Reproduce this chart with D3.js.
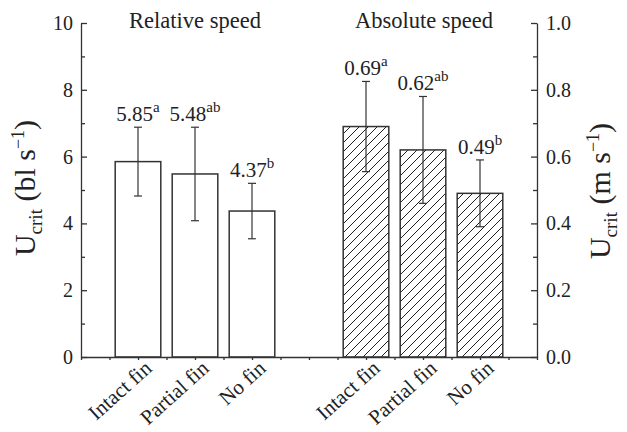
<!DOCTYPE html>
<html>
<head>
<meta charset="utf-8">
<script src="https://cdn.jsdelivr.net/npm/d3@7"></script>
<style>
  body { margin: 0; background: #fff; }
  svg text { font-family: "Liberation Serif", "Times New Roman", serif; fill: #222; }
  .axis path, .axis line { stroke: #333; stroke-width: 1.3; }
</style>
</head>
<body>
<svg width="627" height="432"></svg>
<script>
// chart values
var categories = ["Intact fin", "Partial fin", "No fin"];
var relMean = [5.85, 5.48, 4.37];
var relErr = [1.03, 1.40, 0.83];
var relSig = ["a", "ab", "b"];
var absMean = [0.69, 0.62, 0.49];
var absErr = [0.135, 0.16, 0.10];
var absSig = ["a", "ab", "b"];
var relPos = [1, 2, 3];
var absPos = [5, 6, 7];
var leftTicks = [0, 2, 4, 6, 8, 10];
var rightTicks = [0, 0.2, 0.4, 0.6, 0.8, 1.0];

var svg = d3.select("svg");

var x = d3.scaleLinear().domain([0, 8]).range([81, 537]);
var yL = d3.scaleLinear().domain([0, 10]).range([357, 23]);
var yR = d3.scaleLinear().domain([0, 1]).range([357, 23]);
var barW = (x(1) - x(0)) * 0.8;

// hatch pattern for absolute speed bars
var defs = svg.append("defs");
defs.append("pattern")
    .attr("id", "hatch")
    .attr("patternUnits", "userSpaceOnUse")
    .attr("width", 9).attr("height", 9)
  .append("path")
    .attr("d", "M-1,1 L1,-1 M0,9 L9,0 M8,10 L10,8")
    .attr("stroke", "#222")
    .attr("stroke-width", 1);

function drawGroup(pos, mean, err, sig, y, fill) {
  var g = svg.append("g");
  var data = mean.map(function(m, i) {
    return {x: pos[i], m: m, e: err[i], s: sig[i]};
  });

  g.selectAll("rect")
    .data(data)
    .enter().append("rect")
      .attr("x", function(d) { return x(d.x) - barW / 2; })
      .attr("y", function(d) { return y(d.m); })
      .attr("width", barW)
      .attr("height", function(d) { return y(0) - y(d.m); })
      .attr("fill", fill)
      .attr("stroke", "#333")
      .attr("stroke-width", 1.5);

  // error bars
  var eb = g.selectAll(".err").data(data).enter().append("g").attr("class", "err");
  eb.append("line")
      .attr("x1", function(d) { return x(d.x); })
      .attr("x2", function(d) { return x(d.x); })
      .attr("y1", function(d) { return y(d.m - d.e); })
      .attr("y2", function(d) { return y(d.m + d.e); });
  eb.append("line")
      .attr("x1", function(d) { return x(d.x) - 4; })
      .attr("x2", function(d) { return x(d.x) + 4; })
      .attr("y1", function(d) { return y(d.m + d.e); })
      .attr("y2", function(d) { return y(d.m + d.e); });
  eb.append("line")
      .attr("x1", function(d) { return x(d.x) - 4; })
      .attr("x2", function(d) { return x(d.x) + 4; })
      .attr("y1", function(d) { return y(d.m - d.e); })
      .attr("y2", function(d) { return y(d.m - d.e); });
  eb.selectAll("line").attr("stroke", "#333").attr("stroke-width", 1.2);

  // value labels with significance letters
  var lab = g.selectAll(".lab").data(data).enter().append("text")
      .attr("class", "lab")
      .attr("x", function(d) { return x(d.x); })
      .attr("y", function(d) { return y(d.m + d.e) - 6; })
      .attr("text-anchor", "middle")
      .attr("font-size", 21);
  lab.append("tspan").text(function(d) { return d.m.toFixed(2); });
  lab.append("tspan").attr("dy", -9).attr("font-size", 15).text(function(d) { return d.s; });
}

drawGroup(relPos, relMean, relErr, relSig, yL, "#fff");
drawGroup(absPos, absMean, absErr, absSig, yR, "url(#hatch)");

// left axis
svg.append("g").attr("class", "axis").attr("transform", "translate(81,0)")
  .call(d3.axisLeft(yL).tickValues(leftTicks).tickSize(-6).tickSizeOuter(0).tickPadding(8)
    .tickFormat(d3.format("d")));
svg.append("g").attr("class", "axis").attr("transform", "translate(81,0)")
  .call(d3.axisLeft(yL).tickValues([1, 3, 5, 7, 9]).tickSize(-4).tickSizeOuter(0).tickFormat(""))
  .select(".domain").remove();

// right axis
svg.append("g").attr("class", "axis").attr("transform", "translate(537,0)")
  .call(d3.axisRight(yR).tickValues(rightTicks).tickSize(-6).tickSizeOuter(0).tickPadding(9)
    .tickFormat(d3.format(".1f")));
svg.append("g").attr("class", "axis").attr("transform", "translate(537,0)")
  .call(d3.axisRight(yR).tickValues([0.1, 0.3, 0.5, 0.7, 0.9]).tickSize(-4).tickSizeOuter(0).tickFormat(""))
  .select(".domain").remove();

// bottom axis
svg.append("g").attr("class", "axis").attr("transform", "translate(0,357)")
  .call(d3.axisBottom(x).tickValues(d3.range(0, 8.5, 0.5)).tickSize(3).tickSizeOuter(0).tickFormat(""));

svg.selectAll(".axis text").attr("font-size", 20).attr("font-family", "Liberation Serif").attr("fill", "#222");

// category labels
var allPos = relPos.concat(absPos);
var allCat = categories.concat(categories);
svg.append("g").selectAll("text")
  .data(allPos)
  .enter().append("text")
    .attr("transform", function(d) { return "translate(" + (x(d) + 15) + ",370) rotate(-42)"; })
    .attr("text-anchor", "end")
    .attr("font-size", 21)
    .text(function(d, i) { return allCat[i]; });

// group titles
svg.append("text").attr("x", 195).attr("y", 28).attr("text-anchor", "middle")
    .attr("font-size", 22.5).text("Relative speed");
svg.append("text").attr("x", 424).attr("y", 28).attr("text-anchor", "middle")
    .attr("font-size", 22.5).text("Absolute speed");

// axis titles
function axisTitle(tx, ty, unit) {
  var t = svg.append("text")
      .attr("transform", "translate(" + tx + "," + ty + ") rotate(-90)")
      .attr("text-anchor", "middle")
      .attr("font-size", 30);
  t.append("tspan").text("U");
  t.append("tspan").attr("dy", 7).attr("font-size", 19).text("crit");
  t.append("tspan").attr("dy", -7).text(" (" + unit + " s");
  t.append("tspan").attr("dy", -11).attr("font-size", 18).text("\u22121");
  t.append("tspan").attr("dy", 11).text(")");
}
axisTitle(35, 188, "bl");
axisTitle(610, 191, "m");
</script>
</body>
</html>
